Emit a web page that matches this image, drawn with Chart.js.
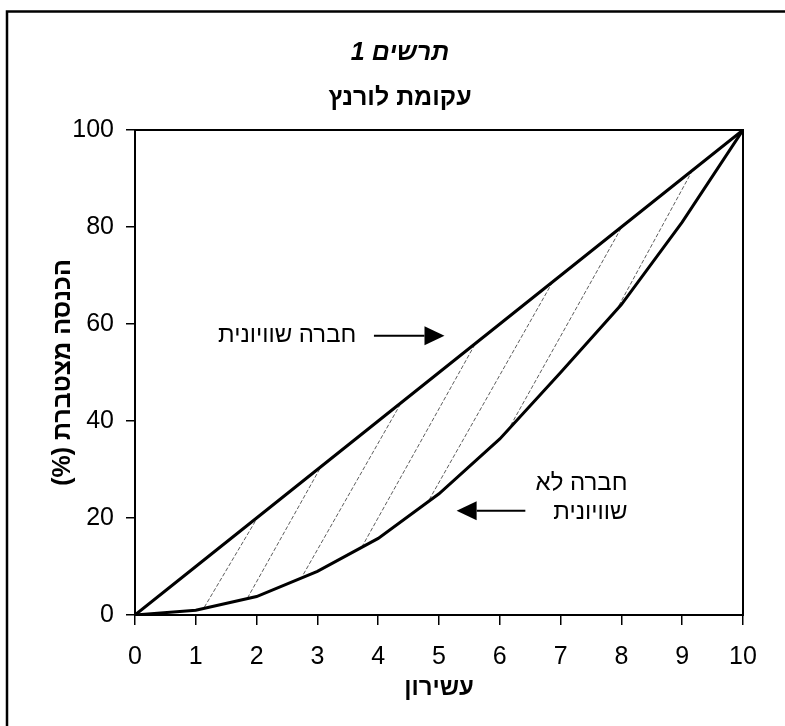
<!DOCTYPE html>
<html lang="he">
<head>
<meta charset="utf-8">
<script src="https://cdn.jsdelivr.net/npm/chart.js@4.4.1/dist/chart.umd.min.js"></script>
<style>
  html, body { margin: 0; padding: 0; background: #ffffff; }
  #wrap { width: 785px; height: 726px; position: relative; }
</style>
</head>
<body>
<div id="wrap"><canvas id="c" width="785" height="726"></canvas></div>
<script>
// ---- data ----
const deciles = [0, 1, 2, 3, 4, 5, 6, 7, 8, 9, 10];
const equalityIncome = [0, 10, 20, 30, 40, 50, 60, 70, 80, 90, 100];
const lorenzIncome = [0, 1, 3.8, 9, 15.8, 25, 36.3, 50, 64, 81, 100];
const xTickLabels = ['0', '1', '2', '3', '4', '5', '6', '7', '8', '9', '10'];
const yTickLabels = ['0', '20', '40', '60', '80', '100'];
const yTickValues = [0, 20, 40, 60, 80, 100];

// hatch segments between the curves (lower end on Lorenz curve, upper end on equality line)
const hatchLowX = [1.14, 1.85, 2.77, 3.73, 4.84, 6.13, 7.91];
const hatchLowY = [1.6, 3.5, 8.4, 14.0, 23.8, 38.0, 62.7];
const hatchHighX = [2.02, 3.06, 4.38, 5.60, 6.87, 8.01, 9.17];
const hatchHighY = [20.2, 30.6, 43.8, 56.0, 68.7, 80.1, 91.7];

// texts
const titleMain = 'תרשים 1';
const titleSub = 'עקומת לורנץ';
const xAxisTitle = 'עשירון';
const yAxisTitle = 'הכנסה מצטברת (%)';
const labelEqual = ['חברה שוויונית'];
const labelUnequal = ['חברה לא', 'שוויונית'];
// annotation anchors in data units
const labelEqualPos = [3.64, 57.6];
const labelUnequalPos = [8.1, 27.1];
const arrowEqual = [[3.93, 57.6], [5.09, 57.6]];
const arrowUnequal = [[6.42, 21.5], [5.29, 21.5]];

const FONT = '"Liberation Sans", Arial, "DejaVu Sans", sans-serif';

const datasets = [];
datasets.push({
  label: 'equality',
  data: deciles.map((x, i) => ({ x: x, y: equalityIncome[i] })),
  borderColor: '#000', borderWidth: 3, pointRadius: 0, tension: 0, order: 1
});
datasets.push({
  label: 'lorenz',
  data: deciles.map((x, i) => ({ x: x, y: lorenzIncome[i] })),
  borderColor: '#000', borderWidth: 3, pointRadius: 0, tension: 0, order: 1
});
hatchLowX.forEach((lx, i) => {
  datasets.push({
    label: 'hatch' + i,
    data: [{ x: lx, y: hatchLowY[i] }, { x: hatchHighX[i], y: hatchHighY[i] }],
    borderColor: '#333', borderWidth: 0.8, borderDash: [4, 2], pointRadius: 0, order: 2
  });
});

const decor = {
  id: 'decor',
  beforeDraw(chart) {
    const ctx = chart.ctx;
    ctx.save();
    ctx.fillStyle = '#fff';
    ctx.fillRect(0, 0, chart.width, chart.height);
    // outer frame (left + top visible)
    ctx.strokeStyle = '#000';
    ctx.lineWidth = 2.5;
    ctx.beginPath();
    ctx.moveTo(7, 726);
    ctx.lineTo(7, 11.5);
    ctx.lineTo(785, 11.5);
    ctx.stroke();
    ctx.restore();
  },
  afterDraw(chart) {
    const ctx = chart.ctx;
    const xs = chart.scales.x, ys = chart.scales.y;
    const a = chart.chartArea;
    ctx.save();
    // plot box
    ctx.strokeStyle = '#000';
    ctx.lineWidth = 2;
    ctx.strokeRect(a.left, a.top, a.right - a.left, a.bottom - a.top);

    ctx.fillStyle = '#000';
    ctx.direction = 'rtl';
    ctx.textBaseline = 'middle';
    // titles
    ctx.textAlign = 'center';
    ctx.font = 'italic bold 25px ' + FONT;
    ctx.fillText(titleMain, 400, 53);
    ctx.font = 'bold 25px ' + FONT;
    ctx.fillText(titleSub, 400, 98);
    // axis titles
    ctx.font = 'bold 24px ' + FONT;
    ctx.fillText(xAxisTitle, (a.left + a.right) / 2, 688);
    ctx.save();
    ctx.font = 'bold 25px ' + FONT;
    ctx.translate(63, (a.top + a.bottom) / 2);
    ctx.rotate(-Math.PI / 2);
    ctx.fillText(yAxisTitle, 0, 0);
    ctx.restore();

    // annotation texts
    ctx.font = '24px ' + FONT;
    ctx.textAlign = 'right';
    labelEqual.forEach((t, i) => {
      ctx.fillText(t, xs.getPixelForValue(labelEqualPos[0]), ys.getPixelForValue(labelEqualPos[1]) + i * 29);
    });
    labelUnequal.forEach((t, i) => {
      ctx.fillText(t, xs.getPixelForValue(labelUnequalPos[0]), ys.getPixelForValue(labelUnequalPos[1]) + i * 29);
    });

    // arrows
    function arrow(p0, p1) {
      const x0 = xs.getPixelForValue(p0[0]), y0 = ys.getPixelForValue(p0[1]);
      const x1 = xs.getPixelForValue(p1[0]), y1 = ys.getPixelForValue(p1[1]);
      const ang = Math.atan2(y1 - y0, x1 - x0);
      const hl = 20, hw = 9.5;
      const bx = x1 - hl * Math.cos(ang), by = y1 - hl * Math.sin(ang);
      ctx.strokeStyle = '#000';
      ctx.lineWidth = 2;
      ctx.beginPath();
      ctx.moveTo(x0, y0);
      ctx.lineTo(bx, by);
      ctx.stroke();
      ctx.beginPath();
      ctx.moveTo(x1, y1);
      ctx.lineTo(bx + hw * Math.sin(ang), by - hw * Math.cos(ang));
      ctx.lineTo(bx - hw * Math.sin(ang), by + hw * Math.cos(ang));
      ctx.closePath();
      ctx.fill();
    }
    arrow(arrowEqual[0], arrowEqual[1]);
    arrow(arrowUnequal[0], arrowUnequal[1]);
    ctx.restore();
  }
};

new Chart(document.getElementById('c'), {
  type: 'line',
  data: { datasets: datasets },
  options: {
    responsive: false,
    animation: false,
    devicePixelRatio: 1,
    layout: { padding: { top: 130, right: 42, left: 0, bottom: 0 } },
    plugins: { legend: { display: false }, tooltip: { enabled: false }, title: { display: false } },
    scales: {
      x: {
        type: 'linear', min: 0, max: 10,
        afterFit(scale) { scale.height = 111; },
        afterBuildTicks(scale) { scale.ticks = deciles.map(v => ({ value: v })); },
        ticks: {
          color: '#000', font: { family: FONT, size: 25 }, padding: 17,
          maxRotation: 0, autoSkip: false,
          callback: (v) => xTickLabels[deciles.indexOf(v)]
        },
        grid: { drawOnChartArea: false, drawTicks: true, tickLength: 10, color: '#000', lineWidth: 1.5 },
        border: { display: true, color: '#000', width: 2 }
      },
      y: {
        type: 'linear', min: 0, max: 100,
        afterFit(scale) { scale.width = 135; },
        afterBuildTicks(scale) { scale.ticks = yTickValues.map(v => ({ value: v })); },
        ticks: {
          color: '#000', font: { family: FONT, size: 25 }, padding: 12,
          autoSkip: false,
          callback: (v) => yTickLabels[yTickValues.indexOf(v)]
        },
        grid: { drawOnChartArea: false, drawTicks: true, tickLength: 9, color: '#000', lineWidth: 1.5 },
        border: { display: true, color: '#000', width: 2 }
      }
    }
  },
  plugins: [decor]
});
</script>
</body>
</html>
